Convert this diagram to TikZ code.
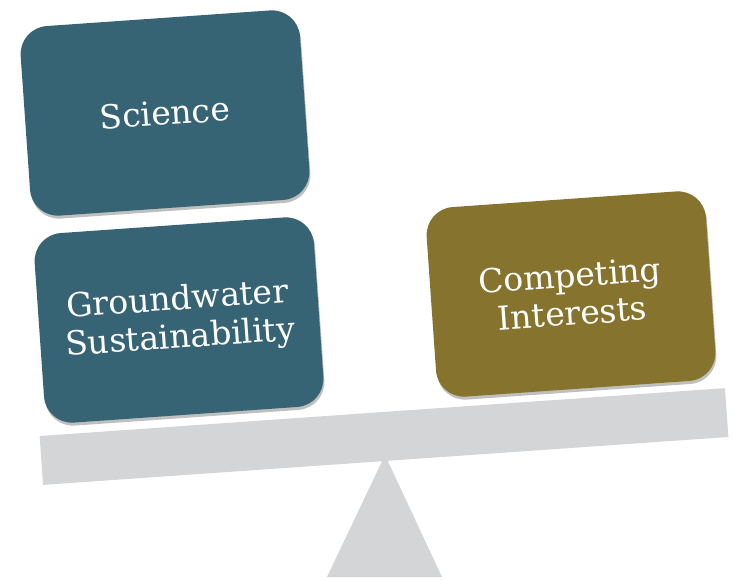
\documentclass[tikz,border=0pt]{standalone}
\usepackage{fontspec}
\setmainfont{DejaVu Serif}
\usepackage{tikz}
\usetikzlibrary{shadows,positioning,calc}

\definecolor{tealbox}{RGB}{55,100,117}
\definecolor{olivebox}{RGB}{133,115,46}
\definecolor{beamgray}{RGB}{212,213,215}

\begin{document}
\begin{tikzpicture}[x=1pt,y=-1pt,
  weight/.style={rounded corners=28pt, minimum width=280pt, minimum height=190pt,
    rotate=4, text=white, align=center, font=\fontsize{33}{38}\selectfont,
    drop shadow={shadow xshift=1pt, shadow yshift=-3pt, fill=black, opacity=0.25}},
  plank/.style={fill=beamgray, minimum width=687pt, minimum height=49pt, rotate=4,
    inner sep=0pt}]
  \useasboundingbox (0,0) rectangle (734,579);

  \coordinate (P) at (385,455);
  \coordinate (L) at (327,577);
  \coordinate (R) at (442,577);
  \fill[beamgray] (P) -- (R) -- (L) -- cycle;

  \node[plank] (beam) at (384,436.5) {};

  \node[weight, fill=tealbox] (science) at (165,113) {Science};
  \node[weight, fill=tealbox] (ground) at (179,320) {Groundwater\\Sustainability};
  \node[weight, fill=olivebox] (interests) at (571,294) {Competing\\Interests};
\end{tikzpicture}
\end{document}
